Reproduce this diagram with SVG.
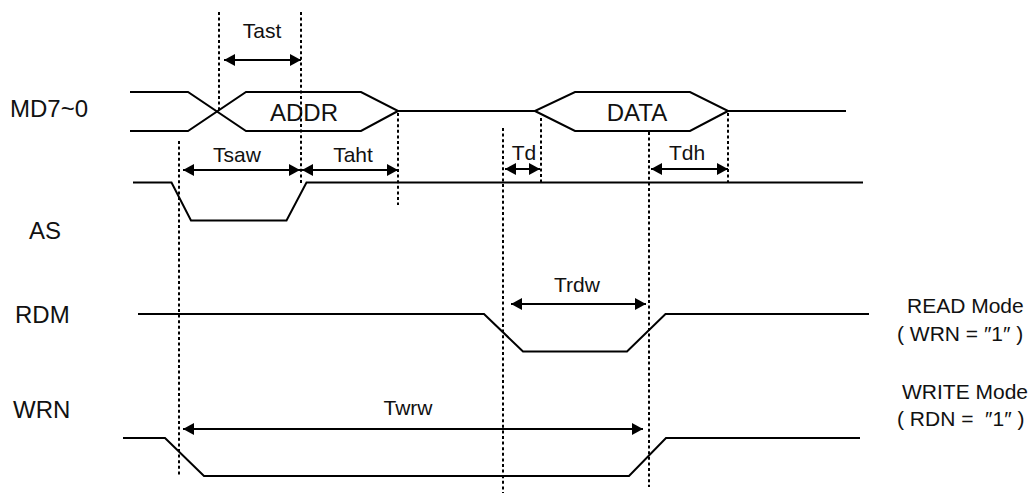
<svg xmlns="http://www.w3.org/2000/svg" width="1031" height="495" viewBox="0 0 1031 495">
<style>
.sig{fill:none;stroke:#000;stroke-width:2;stroke-linejoin:miter}
.dot{fill:none;stroke:#000;stroke-width:2;stroke-dasharray:3 2.6}
.dim{fill:none;stroke:#000;stroke-width:2;marker-start:url(#ah);marker-end:url(#ah)}
.nm{font-family:"Liberation Sans",Arial,sans-serif;font-size:24px;fill:#111}
.lb{font-family:"Liberation Sans",Arial,sans-serif;font-size:21px;fill:#111;text-anchor:middle}
.md{font-family:"Liberation Sans","DejaVu Sans",Arial,sans-serif;font-size:21px;fill:#111;white-space:pre}
</style>
<defs>
<marker id="ah" markerUnits="userSpaceOnUse" markerWidth="11" markerHeight="12" viewBox="0 0 11 12" refX="11" refY="6" orient="auto-start-reverse">
<path d="M0,0 L11,6 L0,12 z" fill="#000"/>
</marker>
</defs>
<rect width="1031" height="495" fill="#fff"/>

<g id="MD">
<text class="nm" x="10" y="117">MD7~0</text>
<path class="sig" d="M130,92 H188 L246,131 H361 L398,111"/>
<path class="sig" d="M130,131 H188 L246,92 H361 L398,111 H535 L575,92 H690 L728,111 H846"/>
<path class="sig" d="M535,111 L575,131 H690 L728,111"/>
<text class="nm" x="304" y="121" text-anchor="middle">ADDR</text>
<text class="nm" x="637" y="121" text-anchor="middle">DATA</text>
</g>

<g id="AS">
<text class="nm" x="29" y="239">AS</text>
<path class="sig" d="M133,182.5 H171.5 L191,220.5 H286.5 L306.5,182.5 H863"/>
</g>

<g id="RDM">
<text class="nm" x="15" y="323">RDM</text>
<path class="sig" d="M138,314 H484 L523,351.5 H627 L665.5,314 H869"/>
<text class="md" x="907" y="313">READ Mode</text>
<text class="md" x="897" y="341">( WRN = ″1″ )</text>
</g>

<g id="WRN">
<text class="nm" x="13" y="418">WRN</text>
<path class="sig" d="M123,438 H165 L204,476 H629 L666,438 H860"/>
<text class="md" x="902" y="399">WRITE Mode</text>
<text class="md" x="897" y="426">( RDN =  ″1″ )</text>
</g>

<g id="connectors">
<line class="dot" x1="219" y1="12" x2="219" y2="110"/>
<line class="dot" x1="301" y1="12" x2="301" y2="183"/>
<line class="dot" x1="179" y1="141" x2="179" y2="476"/>
<line class="dot" x1="398" y1="113" x2="398" y2="205"/>
<line class="dot" x1="503" y1="128" x2="503" y2="493"/>
<line class="dot" x1="541" y1="118" x2="541" y2="182"/>
<line class="dot" x1="649" y1="132" x2="649" y2="487"/>
<line class="dot" x1="728" y1="113" x2="728" y2="182"/>

<line class="dim" x1="224" y1="60" x2="301" y2="60"/>
<line class="dim" x1="183" y1="170" x2="300" y2="170"/>
<line class="dim" x1="302" y1="170" x2="398" y2="170"/>
<line class="dim" x1="505" y1="169" x2="540" y2="169"/>
<line class="dim" x1="651" y1="169" x2="728" y2="169"/>
<line class="dim" x1="511" y1="304" x2="646" y2="304"/>
<line class="dim" x1="183" y1="429" x2="643" y2="429"/>

<text class="lb" x="262" y="38">Tast</text>
<text class="lb" x="237" y="162">Tsaw</text>
<text class="lb" x="353" y="162">Taht</text>
<text class="lb" x="524" y="160">Td</text>
<text class="lb" x="687" y="160">Tdh</text>
<text class="lb" x="577" y="292">Trdw</text>
<text class="lb" x="408" y="415">Twrw</text>
</g>
</svg>
